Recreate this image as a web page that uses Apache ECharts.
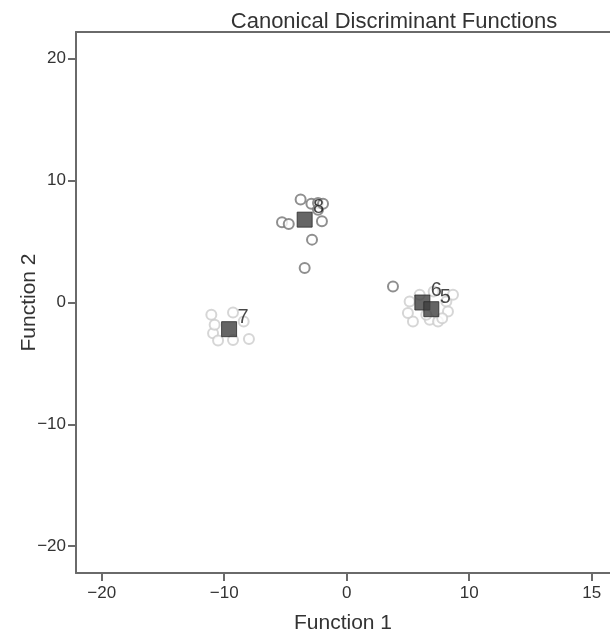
<!DOCTYPE html>
<html>
<head>
<meta charset="utf-8">
<script src="https://cdn.jsdelivr.net/npm/echarts@6/dist/echarts.min.js"></script>
<style>
html, body { margin: 0; padding: 0; background: #fff; }
#main { width: 610px; height: 636px; }
</style>
</head>
<body>
<div id="main"></div>
<script>
// 个案（深灰圈）
var darkF1 = [-3.76, -2.88, -2.34, -2.34, -1.93, -2.02, -5.28, -4.73, -2.83, -3.43, 3.78];
var darkF2 = [8.45, 8.10, 8.17, 7.62, 8.10, 6.66, 6.58, 6.45, 5.16, 2.83, 1.32];
// 个案（浅灰圈）
var lightF1 = [-11.05, -9.28, -8.41, -10.91, -10.5, -9.28, -7.98, -10.78,
	5.41, 5.14, 8.14, 8.68, 6.78, 7.46, 8.27, 5.96, 5.0, 7.1, 6.5, 7.8];
var lightF2 = [-1.01, -0.82, -1.56, -2.52, -3.12, -3.07, -2.99, -1.83,
	-1.56, 0.08, 0.08, 0.63, -1.42, -1.56, -0.74, 0.63, -0.87, 0.9, -1.0, -1.3];
// 组质心
var groupNames = ['8', '7', '6', '5'];
var centroidF1 = [-3.43, -9.6, 6.18, 6.91];
var centroidF2 = [6.8, -2.19, 0.0, -0.55];
// 刻度
var xTickValues = [-20, -10, 0, 10, 20];
var xTickLabels = ['\u221220', '\u221210', '0', '10', '15'];
var yTickValues = [-20, -10, 0, 10, 20];
var yTickLabels = ['\u221220', '\u221210', '0', '10', '20'];

function pairs(xs, ys) {
	var arr = [];
	for (var i = 0; i < xs.length; i++) {
		arr.push([xs[i], ys[i]]);
	}
	return arr;
}

var myChart = echarts.init(document.getElementById('main'));
var axisColor = '#6a6a6a';
var textColor = '#333';
var font = 'Liberation Sans, Arial, sans-serif';
var xMin = -22.1, xMax = 21.5;

var option = {
	animation: false,
	title: {
		text: 'Canonical Discriminant Functions',
		left: 389,
		textAlign: 'center',
		top: 6,
		textStyle: { fontFamily: font, fontSize: 22, fontWeight: 'normal', color: textColor }
	},
	grid: {
		left: 76,
		right: 0,
		top: 32,
		bottom: 63,
		containLabel: false,
		outerBoundsMode: 'none'
	},
	xAxis: [{
		type: 'value',
		min: xMin,
		max: xMax,
		name: 'Function 1',
		nameLocation: 'middle',
		nameGap: 40,
		nameTextStyle: { fontFamily: font, fontSize: 21, color: textColor },
		splitLine: { show: false },
		axisLine: { show: true, onZero: false, lineStyle: { color: axisColor, width: 2 } },
		axisTick: { show: true, length: 8, customValues: xTickValues, lineStyle: { color: axisColor, width: 2 } },
		axisLabel: {
			customValues: xTickValues,
			margin: 12,
			fontFamily: font, fontSize: 17, color: textColor,
			formatter: function(v) {
				return xTickLabels[xTickValues.indexOf(Math.round(v))];
			}
		}
	}, {
		// 顶部边框
		type: 'value',
		position: 'top',
		min: xMin,
		max: xMax,
		splitLine: { show: false },
		axisLine: { show: true, onZero: false, lineStyle: { color: axisColor, width: 2 } },
		axisTick: { show: false },
		axisLabel: { show: false }
	}],
	yAxis: {
		type: 'value',
		min: -22.2,
		max: 22.2,
		name: 'Function 2',
		nameLocation: 'middle',
		nameGap: 36,
		nameMoveOverlap: false,
		nameTextStyle: { fontFamily: font, fontSize: 21, color: textColor },
		splitLine: { show: false },
		axisLine: { show: true, onZero: false, lineStyle: { color: axisColor, width: 2 } },
		axisTick: { show: true, length: 8, customValues: yTickValues, lineStyle: { color: axisColor, width: 2 } },
		axisLabel: {
			customValues: yTickValues,
			margin: 10,
			fontFamily: font, fontSize: 17, color: textColor,
			formatter: function(v) {
				return yTickLabels[yTickValues.indexOf(Math.round(v))];
			}
		}
	},
	series: [{
		type: 'scatter',
		symbol: 'emptyCircle',
		symbolSize: 10,
		itemStyle: { color: '#cccccc', borderWidth: 2.5 },
		data: pairs(lightF1, lightF2)
	}, {
		type: 'scatter',
		symbol: 'emptyCircle',
		symbolSize: 10,
		itemStyle: { color: '#737373', borderWidth: 2.5 },
		data: pairs(darkF1, darkF2)
	}, {
		type: 'scatter',
		symbol: 'rect',
		symbolSize: 15,
		itemStyle: { color: '#3e3e3e', borderColor: '#2a2a2a', borderWidth: 1 },
		label: {
			show: true,
			position: 'inside',
			offset: [14, -12],
			fontFamily: font,
			fontSize: 20,
			color: '#1a1a1a',
			formatter: function(p) { return p.value[2]; }
		},
		data: (function() {
			var arr = [];
			for (var i = 0; i < groupNames.length; i++) {
				arr.push([centroidF1[i], centroidF2[i], groupNames[i]]);
			}
			return arr;
		})()
	}]
};
myChart.setOption(option);
</script>
</body>
</html>
